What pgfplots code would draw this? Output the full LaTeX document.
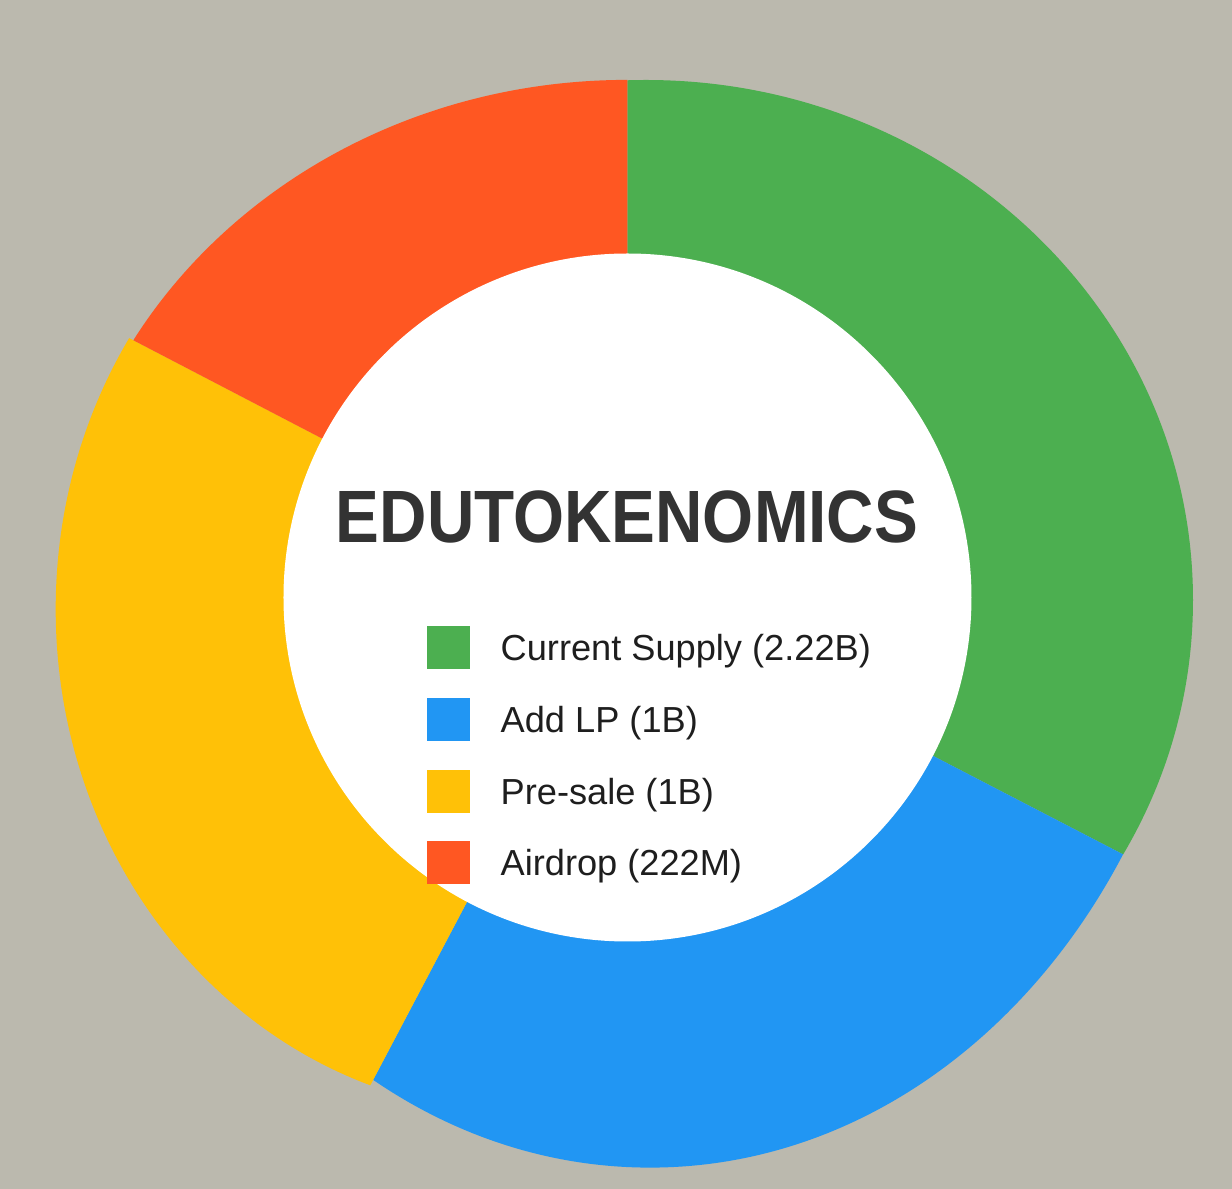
\documentclass[border=0pt]{standalone}
\usepackage{pgfplots}
\pgfplotsset{compat=1.18}
\usepackage{fontspec}
\usepackage{graphicx}
\setmainfont{Liberation Sans}
\definecolor{bg}{RGB}{187,185,174}
\definecolor{cgreen}{HTML}{4CAF50}
\definecolor{cblue}{HTML}{2196F3}
\definecolor{cyellow}{HTML}{FFC107}
\definecolor{corange}{HTML}{FF5722}
\definecolor{ctitle}{HTML}{333333}
\definecolor{ctext}{HTML}{1E1E1E}
\begin{document}
\begin{tikzpicture}
\begin{axis}[x=0.1mm, y=0.1mm, xmin=0, xmax=1232, ymin=0, ymax=1189,
  hide axis, clip=false, scale only axis]
\coordinate (SW) at (axis cs:0,0);
\coordinate (NE) at (axis cs:1232,1189);
\fill[bg] (axis cs:0,0) rectangle (axis cs:1232,1189);
% slices (clockwise from top): spans 117.4, 90.4, 89.7, 62.5 degrees
\begin{scope}
\clip (axis cs:627.5,591.5) -- +(90:150mm) arc[start angle=90, end angle=-27.4, radius=150mm] -- cycle;
\fill[cgreen] (axis cs:646,589) ellipse [x radius=54.7mm, y radius=52.0mm];
\end{scope}
\begin{scope}
\clip (axis cs:627.5,591.5) -- +(-27.4:150mm) arc[start angle=-27.4, end angle=-117.8, radius=150mm] -- cycle;
\fill[cblue] (axis cs:650,687) ellipse [x radius=55.75mm, y radius=66.56mm];
\end{scope}
\begin{scope}
\clip (axis cs:627.5,591.5) -- +(-117.8:150mm) arc[start angle=-117.8, end angle=-207.5, radius=150mm] -- cycle;
\fill[cyellow] (axis cs:524.1,579.8) ellipse [x radius=46.84mm, y radius=50.39mm];
\end{scope}
\begin{scope}
\clip (axis cs:627.5,591.5) -- +(-207.5:150mm) arc[start angle=-207.5, end angle=-270, radius=150mm] -- cycle;
\fill[corange] (axis cs:627.5,589.6) ellipse [x radius=57.0mm, y radius=51.95mm];
\end{scope}
\fill[white] (axis cs:627.5,591.5) circle[radius=34.4mm];
% title
\node[anchor=center, inner sep=0pt, text=ctitle] at (axis cs:627,672)
  {\scalebox{0.885}[1]{\fontsize{21.1pt}{24pt}\selectfont\bfseries EDUTOKENOMICS}};
% legend
\fill[cgreen]  (axis cs:427,563) rectangle (axis cs:470,520);
\fill[cblue]   (axis cs:427,491) rectangle (axis cs:470,448);
\fill[cyellow] (axis cs:427,419) rectangle (axis cs:470,376);
\fill[corange] (axis cs:427,348) rectangle (axis cs:470,305);
\node[anchor=base west, inner sep=0pt, text=ctext] at (axis cs:500,528.3) {\fontsize{10.3pt}{12pt}\selectfont Current Supply (2.22B)};
\node[anchor=base west, inner sep=0pt, text=ctext] at (axis cs:500,456.6) {\fontsize{10.3pt}{12pt}\selectfont Add LP (1B)};
\node[anchor=base west, inner sep=0pt, text=ctext] at (axis cs:500,384.9) {\fontsize{10.3pt}{12pt}\selectfont Pre-sale (1B)};
\node[anchor=base west, inner sep=0pt, text=ctext] at (axis cs:500,313.2) {\fontsize{10.3pt}{12pt}\selectfont Airdrop (222M)};
\end{axis}
\pgfresetboundingbox
\path[use as bounding box] (SW) rectangle (NE);
\end{tikzpicture}
\end{document}
